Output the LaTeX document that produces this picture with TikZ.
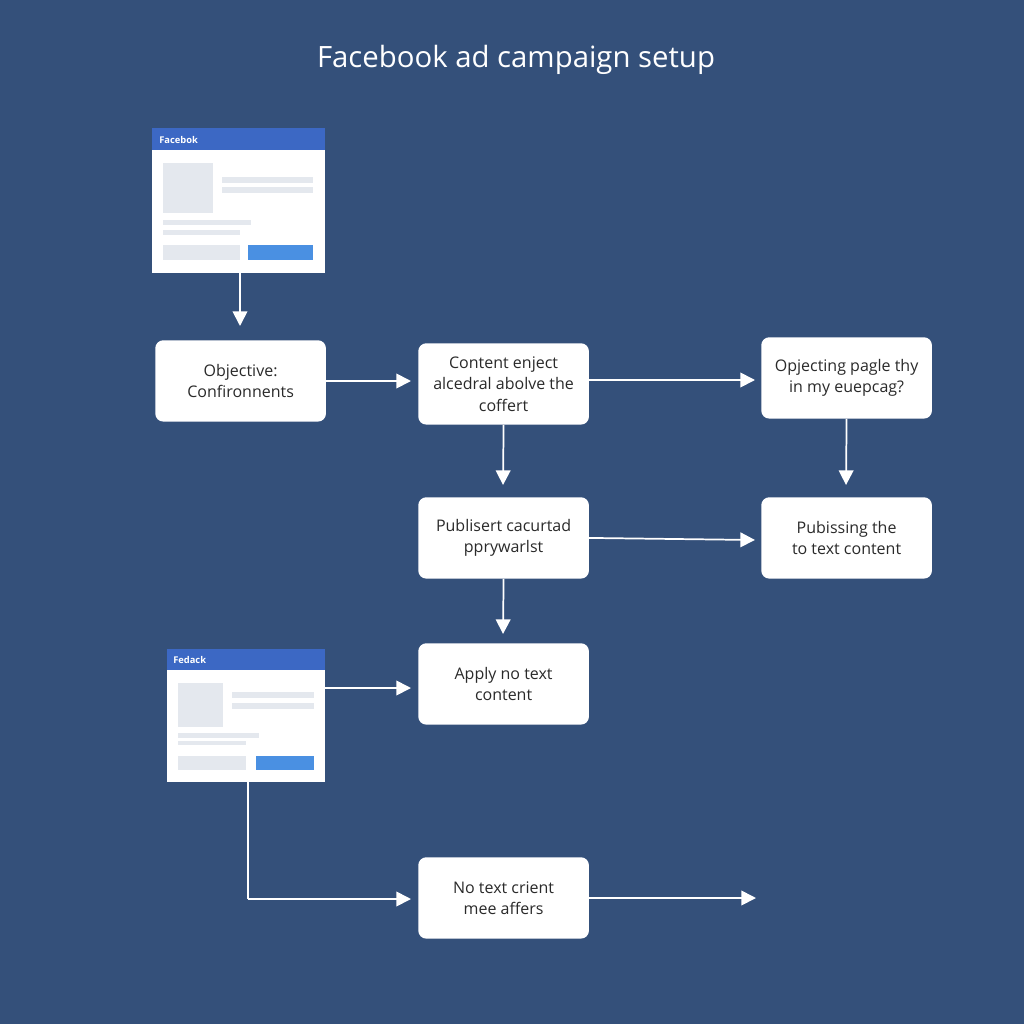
\documentclass[tikz,border=0pt]{standalone}
\usepackage{fontspec}
\setmainfont{Open Sans}
\usetikzlibrary{arrows.meta}
\definecolor{bg}{HTML}{34507A}
\definecolor{hdr}{HTML}{3C68C4}
\definecolor{btn}{HTML}{4A90E2}
\definecolor{ph}{HTML}{E4E8EE}
\definecolor{txt}{HTML}{2A2A2A}
\begin{document}
\begin{tikzpicture}[x=0.75pt,y=-0.75pt,
  box/.style={draw=none,fill=white,rounded corners=6pt,minimum width=128pt,minimum height=61pt,align=center,font=\fontsize{12}{16}\selectfont,text=txt,anchor=north west,inner sep=0pt},
  arr/.style={draw=white,line width=1.3pt,-{Triangle[length=11pt,width=11pt]}},
  ln/.style={draw=white,line width=1.3pt}]
\useasboundingbox[fill=bg] (0,0) rectangle (1024,1024);
\node[text=white,font=\fontsize{22}{26}\selectfont] (title) at (516,60) {Facebook ad campaign setup};
% mockup 1
\fill[white] (152,128) rectangle (325,273);
\fill[hdr] (152,128) rectangle (325,150);
\node[text=white,font=\fontsize{7}{8}\selectfont\bfseries,anchor=west,inner sep=0pt] (m1t) at (159,140) {Facebok};
\fill[ph] (163,163) rectangle (213,213);
\fill[ph] (222,177) rectangle (313,183);
\fill[ph] (222,187) rectangle (313,193);
\fill[ph] (163,220) rectangle (251,225);
\fill[ph] (163,230) rectangle (240,235);
\fill[ph] (163,245) rectangle (240,260);
\fill[btn] (248,245) rectangle (313,260);
\coordinate (m1) at (240,273);
% mockup 2
\fill[white] (167,649) rectangle (325,782);
\fill[hdr] (167,649) rectangle (325,670);
\node[text=white,font=\fontsize{7}{8}\selectfont\bfseries,anchor=west,inner sep=0pt] (m2t) at (173,660) {Fedack};
\fill[ph] (178,683) rectangle (223,727);
\fill[ph] (232,692) rectangle (314,698);
\fill[ph] (232,703) rectangle (314,709);
\fill[ph] (178,733) rectangle (259,738);
\fill[ph] (178,741) rectangle (246,745);
\fill[ph] (178,756) rectangle (246,770);
\fill[btn] (256,756) rectangle (314,770);
\coordinate (m2r) at (325,688);
\coordinate (m2b) at (248,782);
\coordinate (bend) at (248,899);
% boxes
\node[box] (A) at (155,340) {Objective:\\Confironnents};
\node[box] (B) at (418,343) {Content enject\\alcedral abolve the\\coffert};
\node[box] (C) at (761,337) {Opjecting pagle thy\\in my euepcag?};
\node[box] (D) at (418,497) {Publisert cacurtad\\pprywarlst};
\node[box] (E) at (761,497) {Pubissing the\\to text content};
\node[box] (F) at (418,643) {Apply no text\\content};
\node[box] (G) at (418,857) {No text crient\\mee affers};
\coordinate (end) at (756,898);
% connectors
\draw[arr] (m1) -- (240,326);
\draw[arr] (A.east |- 0,381) -- (411,381);
\draw[arr] (B.east |- 0,380) -- (755,380);
\draw[arr] (B.south) -- (503,485);
\draw[arr] (C.south) -- (846,485);
\draw[arr] (D.east) -- (755,540);
\draw[arr] (D.south) -- (503,634);
\draw[arr] (m2r) -- (411,688);
\draw[ln] (m2b) -- (bend);
\draw[arr] (bend) -- (411,899);
\draw[arr] (G.east |- 0,898) -- (end);
\end{tikzpicture}
\end{document}
